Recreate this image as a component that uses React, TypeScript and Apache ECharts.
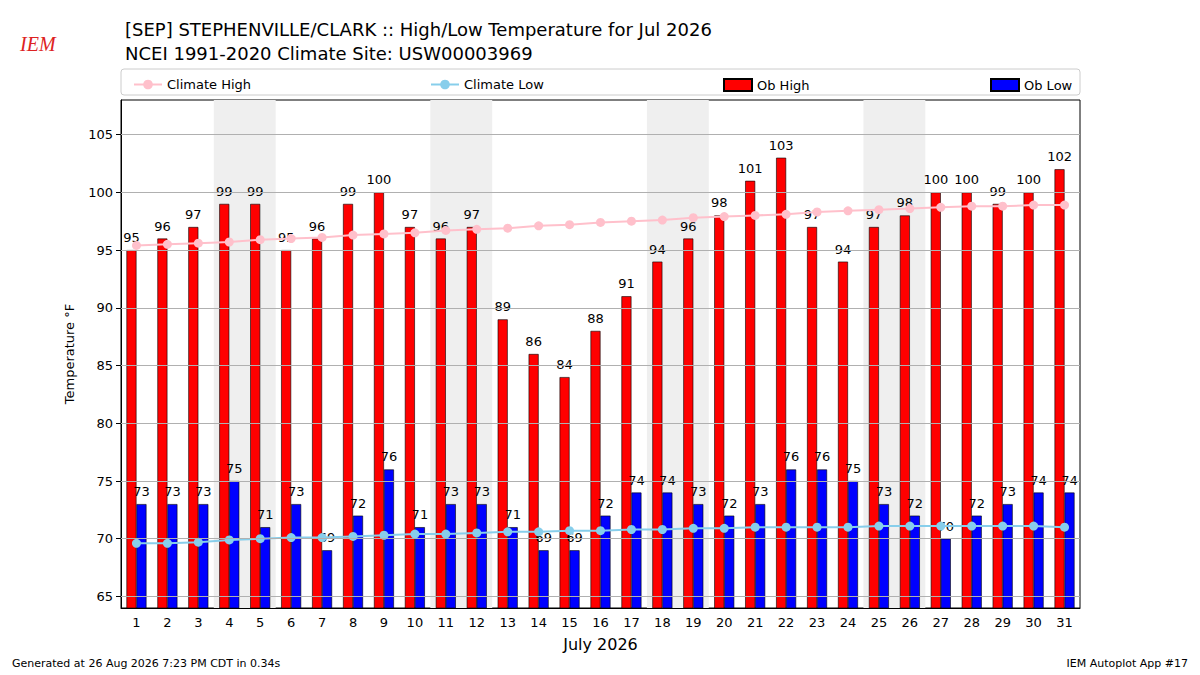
import { useEffect, useRef } from 'react';
import * as echarts from 'echarts';

const days = Array.from({ length: 31 }, (_, i) => String(i + 1));
const obHigh = [95, 96, 97, 99, 99, 95, 96, 99, 100, 97, 96, 97, 89, 86, 84, 88, 91, 94, 96, 98, 101, 103, 97, 94, 97, 98, 100, 100, 99, 100, 102];
const obLow = [73, 73, 73, 75, 71, 73, 69, 72, 76, 71, 73, 73, 71, 69, 69, 72, 74, 74, 73, 72, 73, 76, 76, 75, 73, 72, 70, 72, 73, 74, 74];
const climateHigh = [95.4, 95.5, 95.6, 95.7, 95.9, 96.0, 96.1, 96.3, 96.4, 96.5, 96.7, 96.8, 96.9, 97.1, 97.2, 97.4, 97.5, 97.6, 97.8, 97.9, 98.0, 98.1, 98.3, 98.4, 98.5, 98.6, 98.7, 98.8, 98.8, 98.9, 98.9];
const climateLow = [69.6, 69.6, 69.7, 69.9, 70.0, 70.1, 70.1, 70.2, 70.3, 70.4, 70.4, 70.5, 70.6, 70.6, 70.7, 70.7, 70.8, 70.8, 70.9, 70.9, 71.0, 71.0, 71.0, 71.0, 71.1, 71.1, 71.1, 71.1, 71.1, 71.1, 71.0];
// weekend spans, Saturday..Sunday
const weekends = [[4, 5], [11, 12], [18, 19], [25, 26]];
const yTicks = [65, 70, 75, 80, 85, 90, 95, 100, 105];

const font = 'DejaVu Sans';

export default function App() {
  const ref = useRef<HTMLDivElement>(null);

  useEffect(() => {
    if (!ref.current) return;
    const chart = echarts.init(ref.current, null, { renderer: 'svg' });
    const legendItem = (name: string, left: number, icon?: string) => ({
      data: [name], left, top: 73, itemWidth: 28, itemHeight: 12, icon,
      textStyle: { fontFamily: font, fontSize: 13, color: '#000' },
    });
    const barLabel = { show: true, position: 'top', fontFamily: font, fontSize: 13, color: '#000', distance: 6 };
    chart.setOption({
      animation: false,
      backgroundColor: '#fff',
      textStyle: { fontFamily: font },
      title: {
        text: '[SEP] STEPHENVILLE/CLARK :: High/Low Temperature for Jul 2026\nNCEI 1991-2020 Climate Site: USW00003969',
        left: 120, top: 12,
        textStyle: { fontFamily: font, fontSize: 18, fontWeight: 'normal', color: '#000', lineHeight: 24 },
      },
      graphic: [
        { type: 'rect', shape: { x: 121, y: 69, width: 959, height: 26, r: 3 }, style: { fill: '#fff', stroke: '#ccc' }, z: -1 },
        { type: 'text', x: 20, y: 34, style: { text: 'IEM', fill: '#d22', font: 'italic 20px serif' } },
        { type: 'text', x: 12, y: 658, style: { text: 'Generated at 26 Aug 2026 7:23 PM CDT in 0.34s', fill: '#000', font: `11px "${font}"` } },
        { type: 'text', x: 1188, y: 658, style: { text: 'IEM Autoplot App #17', fill: '#000', font: `11px "${font}"`, align: 'right' } },
      ],
      legend: [
        legendItem('Climate High', 128),
        legendItem('Climate Low', 425),
        legendItem('Ob High', 718, 'rect'),
        legendItem('Ob Low', 985, 'rect'),
      ],
      grid: { left: 121, right: 120, top: 100, bottom: 67, show: true, borderColor: '#000', borderWidth: 1 },
      xAxis: [
        {
          type: 'category', data: days,
          name: 'July 2026', nameLocation: 'middle', nameGap: 28,
          nameTextStyle: { fontFamily: font, fontSize: 16, color: '#000' },
          axisLine: { lineStyle: { color: '#000' } },
          axisTick: { alignWithLabel: true, lineStyle: { color: '#000' } },
          axisLabel: { fontFamily: font, fontSize: 13, color: '#000' },
        },
        { type: 'value', min: 0.5, max: 31.5, show: false },
      ],
      yAxis: {
        type: 'value', min: 64, max: 108,
        name: 'Temperature °F', nameLocation: 'middle', nameGap: 45,
        nameTextStyle: { fontFamily: font, fontSize: 13, color: '#000' },
        axisLine: { show: true, lineStyle: { color: '#000' } },
        axisTick: { show: true, customValues: yTicks, lineStyle: { color: '#000' } },
        axisLabel: { fontFamily: font, fontSize: 13, color: '#000', customValues: yTicks },
        splitLine: { show: false },
      },
      series: [
        {
          name: 'bands', type: 'line', xAxisIndex: 1, data: [], silent: true,
          markArea: {
            silent: true, itemStyle: { color: '#efefef' },
            data: weekends.map(([a, b]) => [{ xAxis: a - 0.5 }, { xAxis: b + 0.5 }]),
          },
          markLine: {
            silent: true, symbol: 'none', label: { show: false },
            lineStyle: { color: '#b0b0b0', type: 'solid', width: 1 },
            data: yTicks.map((v) => ({ yAxis: v })),
          },
          z: 0,
        },
        {
          name: 'Ob High', type: 'bar', data: obHigh, barWidth: 10, barGap: '0%',
          itemStyle: { color: '#ff0000', borderColor: '#000', borderWidth: 0.6 },
          label: barLabel, z: 2,
        },
        {
          name: 'Ob Low', type: 'bar', data: obLow, barWidth: 10,
          itemStyle: { color: '#0000ff', borderColor: '#000', borderWidth: 0.6 },
          label: barLabel, z: 2,
        },
        {
          name: 'Climate High', type: 'line', data: climateHigh, symbol: 'circle', symbolSize: 9,
          itemStyle: { color: '#ffc0cb' }, lineStyle: { color: '#ffc0cb', width: 2 }, z: 3,
        },
        {
          name: 'Climate Low', type: 'line', data: climateLow, symbol: 'circle', symbolSize: 9,
          itemStyle: { color: '#87ceeb' }, lineStyle: { color: '#87ceeb', width: 2 }, z: 3,
        },
      ],
    });
    return () => chart.dispose();
  }, []);

  return <div ref={ref} style={{ position: 'fixed', left: 0, top: 0, width: 1200, height: 675 }} />;
}
